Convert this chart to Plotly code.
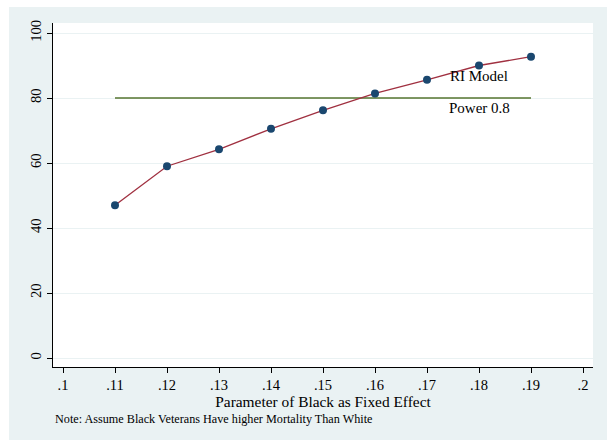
import plotly.graph_objects as go

x_vals = [0.11, 0.12, 0.13, 0.14, 0.15, 0.16, 0.17, 0.18, 0.19]
ri_model = [47.0, 59.0, 64.2, 70.5, 76.2, 81.4, 85.6, 90.0, 92.7]
power_08 = [80, 80, 80, 80, 80, 80, 80, 80, 80]
x_ticks = [0.1, 0.11, 0.12, 0.13, 0.14, 0.15, 0.16, 0.17, 0.18, 0.19, 0.2]
x_tick_text = [".1", ".11", ".12", ".13", ".14", ".15", ".16", ".17", ".18", ".19", ".2"]
y_ticks = [0, 20, 40, 60, 80, 100]

SERIF = "Liberation Serif, Times New Roman, serif"
BG = "#EAF2F3"

fig = go.Figure()
fig.add_trace(go.Scatter(x=x_vals, y=power_08, mode="lines",
                         line=dict(color="#55752F", width=1.3), name="Power 0.8"))
fig.add_trace(go.Scatter(x=x_vals, y=ri_model, mode="lines+markers",
                         line=dict(color="#A03040", width=1.3),
                         marker=dict(color="#1A476F", size=8), name="RI Model"))

W, H = 607, 440
l, r, t, b = 53, 14, 23, 73
pw, ph = W - l - r, H - t - b

def px_to_paper_x(px):
    return (px - l) / pw

def px_to_paper_y(py):
    return (H - b - py) / ph

fig.add_shape(type="rect", xref="paper", yref="paper", layer="below",
              x0=px_to_paper_x(9), x1=px_to_paper_x(W + 5),
              y0=px_to_paper_y(H + 5), y1=px_to_paper_y(7),
              fillcolor=BG, line=dict(width=0))
fig.add_shape(type="rect", xref="paper", yref="paper", layer="below",
              x0=0, x1=1, y0=0, y1=1, fillcolor="white", line=dict(width=0))

fig.add_annotation(x=0.18, y=86.8, text="RI Model", showarrow=False,
                   font=dict(family=SERIF, size=15, color="black"))
fig.add_annotation(x=0.18, y=76.9, text="Power 0.8", showarrow=False,
                   font=dict(family=SERIF, size=15, color="black"))
fig.add_annotation(xref="paper", yref="paper", x=px_to_paper_x(53), y=px_to_paper_y(419),
                   xanchor="left", yanchor="middle", showarrow=False,
                   text="Note: Assume Black Veterans Have higher Mortality Than White",
                   font=dict(family=SERIF, size=12.2, color="black"))

fig.update_layout(
    width=W, height=H,
    margin=dict(l=l, r=r, t=t, b=b),
    paper_bgcolor="white", plot_bgcolor="rgba(0,0,0,0)",
    showlegend=False,
    font=dict(family=SERIF, color="black"),
    xaxis=dict(range=[0.1 - 10 / 5200, 0.2 + 10 / 5200], tickvals=x_ticks, ticktext=x_tick_text,
               showgrid=False, zeroline=False, showline=True, linecolor="black", linewidth=1,
               ticks="outside", ticklen=5, tickcolor="black",
               tickfont=dict(family=SERIF, size=14.5),
               title=dict(text="Parameter of Black as Fixed Effect", standoff=0,
                          font=dict(family=SERIF, size=15.4))),
    yaxis=dict(range=[-9 / 3.25, 100 + 10 / 3.25], tickvals=y_ticks,
               showgrid=True, gridcolor=BG, gridwidth=1,
               zeroline=False, showline=True, linecolor="black", linewidth=1,
               ticks="outside", ticklen=5, tickcolor="black", tickangle=-90,
               tickfont=dict(family=SERIF, size=14.5)),
)

fig.write_html("out.html")
